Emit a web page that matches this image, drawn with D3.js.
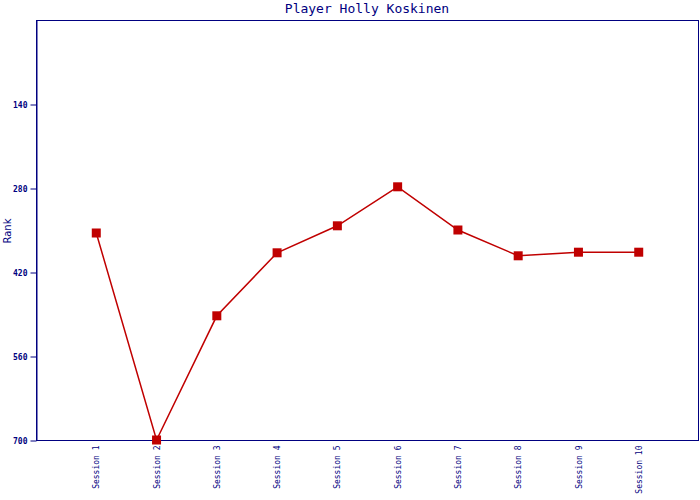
<!DOCTYPE html>
<html><head><meta charset="utf-8">
<script src="https://cdn.jsdelivr.net/npm/d3@7"></script>
<style>body{margin:0;background:#fff}</style>
</head><body>
<svg id="c" width="700" height="500"></svg>
<script>
const title = "Player Holly Koskinen";
const categories = ["Session 1","Session 2","Session 3","Session 4","Session 5","Session 6","Session 7","Session 8","Session 9","Session 10"];
const ranks = [355, 700, 493, 388, 343, 278, 350, 393, 387, 387];
const yTicks = [140, 280, 420, 560, 700];

const navy = "#000080", red = "#c00000";
const svg = d3.select("#c");
const L = 36, T = 20, R = 699, B = 440;

const x = d3.scalePoint().domain(categories).range([L, R]).padding(1);
const y = d3.scaleLinear().domain([0, 700]).range([T, B]);

svg.append("rect").attr("x", L + 0.5).attr("y", T + 0.5).attr("width", R - L - 1).attr("height", B - T)
  .attr("fill", "none").attr("stroke", navy).attr("stroke-width", 1);

const ya = svg.append("g").attr("transform", `translate(${L + 0.5},0.5)`)
  .call(d3.axisLeft(y).tickValues(yTicks).tickSizeInner(6).tickSizeOuter(0).tickPadding(3));
ya.select(".domain").attr("stroke", navy);
ya.selectAll(".tick line").attr("stroke", navy);
ya.selectAll(".tick text").attr("fill", navy).attr("font-family", "DejaVu Sans Mono").attr("font-size", 8).attr("font-weight", "bold");

const xa = svg.append("g").attr("transform", `translate(0,${B + 0.5})`)
  .call(d3.axisBottom(x).tickSize(0).tickPadding(0));
xa.select(".domain").remove();
xa.selectAll(".tick text").attr("fill", navy).attr("font-family", "DejaVu Sans Mono").attr("font-size", 8)
  .attr("text-anchor", "end").attr("dy", "0.32em").attr("transform", "translate(0,5) rotate(-90)").attr("y", 0).attr("x", 0);

svg.append("path").datum(ranks)
  .attr("fill", "none").attr("stroke", red).attr("stroke-width", 1.5)
  .attr("d", d3.line().x((d, i) => x(categories[i])).y(d => y(d)));

svg.selectAll("rect.m").data(ranks).join("rect").attr("class", "m")
  .attr("x", (d, i) => x(categories[i]) - 4.5).attr("y", d => y(d) - 4.5)
  .attr("width", 9).attr("height", 9).attr("fill", red);

svg.append("text").attr("x", 367).attr("y", 13).attr("text-anchor", "middle")
  .attr("font-family", "DejaVu Sans Mono").attr("font-size", 13).attr("fill", navy).text(title);

svg.append("text").attr("transform", "translate(11,231) rotate(-90)").attr("text-anchor", "middle")
  .attr("font-family", "DejaVu Sans").attr("font-size", 10).attr("fill", navy).text("Rank");
</script>
</body></html>
